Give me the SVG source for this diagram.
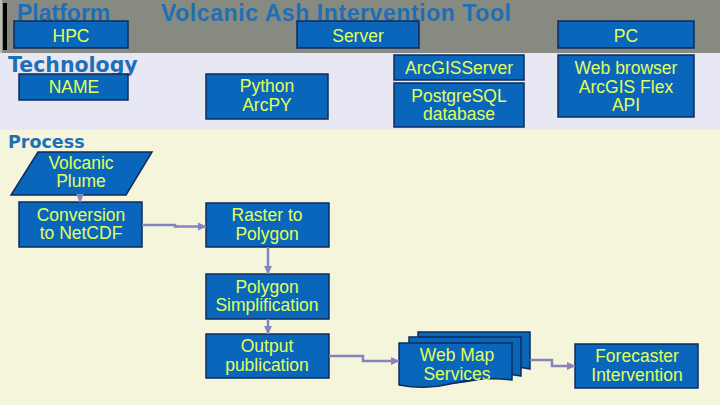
<svg xmlns="http://www.w3.org/2000/svg" width="720" height="405" viewBox="0 0 720 405">
<defs>
<style>
.box{fill:#0a66bb;stroke:#0d2b5e;stroke-width:1.5}
.t{font-family:"Liberation Sans",Arial,sans-serif;font-size:17.5px;fill:#e2ff5c;text-anchor:middle}
.h{font-family:"Liberation Sans",Arial,sans-serif;font-size:23px;font-weight:bold;fill:#1f6fb6}
.s{font-family:"DejaVu Sans",Verdana,sans-serif;font-weight:bold;fill:#1f6fb6}
.c{fill:none;stroke:#8584c0;stroke-width:2.5}
</style>
<marker id="ah" markerUnits="userSpaceOnUse" markerWidth="9" markerHeight="9" viewBox="0 0 9 9" refX="8" refY="4.5" orient="auto">
<path d="M0,0.5 L8.5,4.5 L0,8.5 Z" fill="#8584c0"/>
</marker>
</defs>
<!-- bands -->
<rect x="0" y="0" width="720" height="53" fill="#868a80"/>
<rect x="0" y="53" width="720" height="77" fill="#e8e8f5"/>
<rect x="0" y="130" width="720" height="275" fill="#f5f5dc"/>
<rect x="0" y="0" width="2" height="53" fill="#b9bbb4"/>
<rect x="3" y="3" width="4" height="47" fill="#000"/>
<!-- section titles -->
<text class="h" x="17" y="20.5">Platform</text>
<text class="h" x="161" y="20.5" textLength="350">Volcanic Ash Intervention Tool</text>
<text class="s" x="8" y="72" font-size="20.5">Technology</text>
<text class="s" x="8" y="148" font-size="17.5">Process</text>
<!-- platform nodes -->
<g id="hpc"><rect class="box" x="14" y="21" width="114" height="27"/><text class="t" x="71" y="41.5" font-size="18">HPC</text></g>
<g id="server"><rect class="box" x="297" y="21" width="122" height="27"/><text class="t" x="358" y="41.5" font-size="18">Server</text></g>
<g id="pc"><rect class="box" x="558" y="21" width="136" height="27"/><text class="t" x="626" y="41.5" font-size="18">PC</text></g>
<!-- technology nodes -->
<g id="name"><rect class="box" x="19" y="74" width="109" height="26"/><text class="t" x="74" y="93" font-size="18">NAME</text></g>
<g id="python"><rect class="box" x="206" y="74" width="122" height="45"/><text class="t" x="267" y="92">Python<tspan x="267" dy="19">ArcPY</tspan></text></g>
<g id="arcgisserver"><rect class="box" x="394" y="55" width="130" height="25"/><text class="t" x="459" y="74" font-size="18">ArcGISServer</text></g>
<g id="postgresql"><rect class="box" x="394" y="83" width="130" height="44"/><text class="t" x="459" y="101.5">PostgreSQL<tspan x="459" dy="18.5">database</tspan></text></g>
<g id="webbrowser"><rect class="box" x="558" y="55" width="136" height="62"/><text class="t" x="626" y="74">Web browser<tspan x="626" dy="18.5">ArcGIS Flex</tspan><tspan x="626" dy="18.5">API</tspan></text></g>
<!-- process nodes -->
<g id="plume"><path class="box" d="M38,152 H152 L126,195 H11 Z"/><text class="t" x="81" y="168.5">Volcanic<tspan x="81" dy="18.5">Plume</tspan></text></g>
<g id="conversion"><rect class="box" x="19" y="202" width="123" height="45"/><text class="t" x="81" y="220.5">Conversion<tspan x="81" dy="18.5">to NetCDF</tspan></text></g>
<g id="raster"><rect class="box" x="206" y="203" width="123" height="44"/><text class="t" x="267" y="221">Raster to<tspan x="267" dy="18.5">Polygon</tspan></text></g>
<g id="simplification"><rect class="box" x="206" y="274" width="123" height="45"/><text class="t" x="267" y="292.5">Polygon<tspan x="267" dy="18.5">Simplification</tspan></text></g>
<g id="output"><rect class="box" x="206" y="334" width="123" height="44"/><text class="t" x="267" y="352">Output<tspan x="267" dy="18.5">publication</tspan></text></g>
<g id="wms">
<path class="box" d="M418,332 H530 V369 C515,366 505,368 490,372 C470,377 450,377 418,374 Z"/>
<path class="box" d="M409,337 H521 V376 C505,373 495,375 480,379 C460,384 440,384 409,381 Z"/>
<path class="box" d="M399,343 H512 V380 C490,377 470,379 450,384 C430,389 415,388 399,385 Z"/>
<text class="t" x="457" y="361" font-size="18">Web Map<tspan x="457" dy="18.5">Services</tspan></text>
</g>
<g id="forecaster"><rect class="box" x="575" y="344" width="123" height="44"/><text class="t" x="637" y="362" font-size="18">Forecaster<tspan x="637" dy="19">Intervention</tspan></text></g>
<!-- connectors -->
<g id="connectors">
<path class="c" d="M80,195 V202" marker-end="url(#ah)" stroke-width="2"/>
<path class="c" d="M142,225 H175 V226.5 H206" marker-end="url(#ah)"/>
<path class="c" d="M268,247 V274" marker-end="url(#ah)"/>
<path class="c" d="M268,319 V334" marker-end="url(#ah)"/>
<path class="c" d="M329,356 H363 V361 H399" marker-end="url(#ah)"/>
<path class="c" d="M530,360 H552 V366 H575" marker-end="url(#ah)"/>
</g>
</svg>
